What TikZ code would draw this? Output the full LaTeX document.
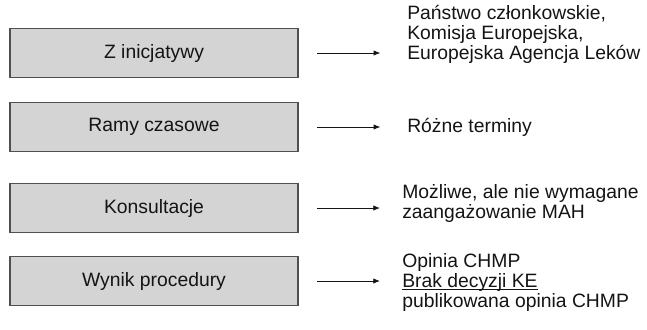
\documentclass[tikz,border=0pt]{standalone}
\usepackage{fontspec}
\setmainfont{Liberation Sans}
\usetikzlibrary{arrows.meta}
\definecolor{boxGray}{RGB}{212,212,212}
\definecolor{edgeGray}{RGB}{80,80,80}
\definecolor{inkDark}{RGB}{20,20,20}
\newcommand\markline[1]{\setbox0\hbox{#1}\rlap{\rule[-2.2pt]{\wd0}{0.6pt}}\box0}

\begin{document}
\begin{tikzpicture}[x=0.75pt,y=-0.75pt,
  font=\fontsize{14.5}{15}\selectfont,
  stagebox/.style={draw=edgeGray,fill=boxGray,line width=1pt,minimum width=216pt,minimum height=37pt,inner sep=0pt,text=inkDark},
  notetext/.style={anchor=west,align=left,inner sep=0pt,text=inkDark},
  leadarrow/.style={-{Latex[length=5pt,width=4pt]},line width=0.6pt,draw=inkDark,shorten <=14pt}]
\useasboundingbox (0,0) rectangle (647,329);
% left column
\node[stagebox] (inicjatywa) at (154,53) {Z inicjatywy};
\node[stagebox] (ramy) at (154,127) {Ramy czasowe};
\node[stagebox] (konsultacje) at (154,208) {Konsultacje};
\node[stagebox] (wynik) at (154,281) {Wynik procedury};
% right column
\node[notetext] (podmioty) at (407,34) {Państwo członkowskie,\\Komisja Europejska,\\Europejska Agencja Leków};
\node[notetext] (terminy) at (407,127) {Różne terminy};
\node[notetext] (udzial) at (402,203) {Możliwe, ale nie wymagane\\zaangażowanie MAH};
\node[notetext] (opinia) at (402,282) {Opinia CHMP\\\markline{Brak decyzji KE}\\publikowana opinia CHMP};
% arrows
\draw[leadarrow,shorten >=20pt] (inicjatywa.east) -- (inicjatywa.east -| podmioty.west);
\draw[leadarrow,shorten >=20pt] (ramy.east) -- (ramy.east -| terminy.west);
\draw[leadarrow,shorten >=16.5pt] (konsultacje.east) -- (konsultacje.east -| udzial.west);
\draw[leadarrow,shorten >=16.5pt] (wynik.east) -- (wynik.east -| opinia.west);
\end{tikzpicture}
\end{document}
